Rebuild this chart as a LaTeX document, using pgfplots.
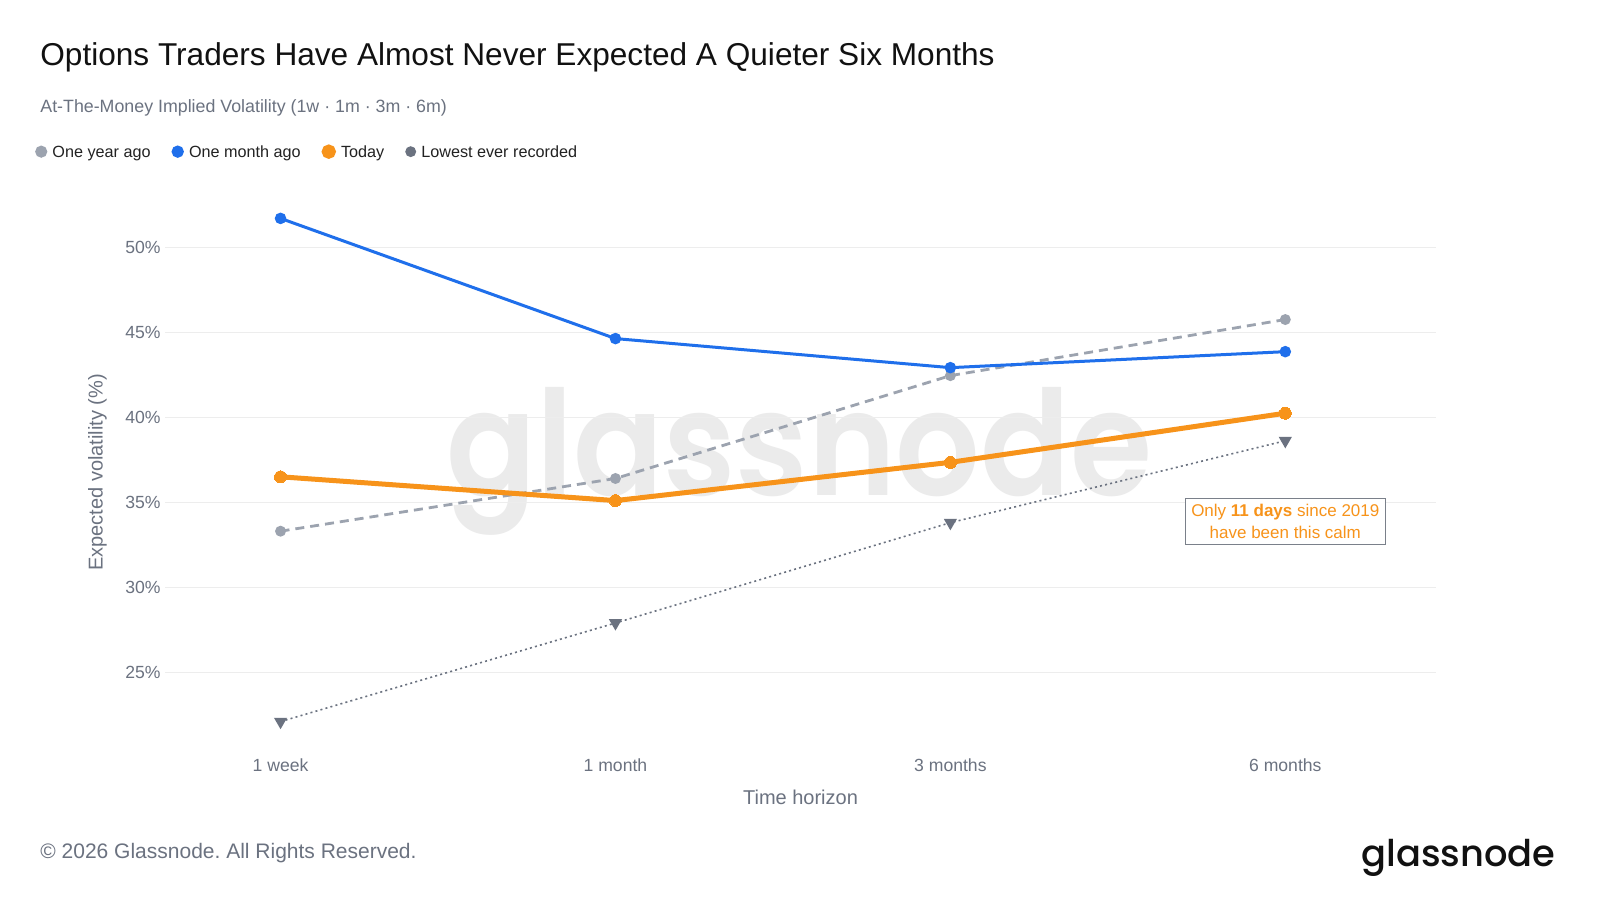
\documentclass[border=0pt]{standalone}
\usepackage{fontspec}
\setmainfont{Liberation Sans}
\newfontfamily\logofont{Poppins}[UprightFont={* Medium}]
\newfontfamily\wmfont{Poppins}[UprightFont={* SemiBold}]
\usepackage{graphicx}
\usepackage{pgfplots}
\pgfplotsset{compat=1.18}
\frenchspacing
\definecolor{cblue}{HTML}{1F6FEB}
\definecolor{corange}{HTML}{F7931A}
\definecolor{cgray}{HTML}{9CA3AF}
\definecolor{cdark}{HTML}{6B7280}
\definecolor{ctext}{HTML}{6B7280}
\definecolor{ctitle}{HTML}{111111}
\definecolor{clegend}{HTML}{222222}
\definecolor{cgrid}{HTML}{EDEDED}
\definecolor{cwm}{HTML}{EBEBEB}
\definecolor{cborder}{HTML}{7A808A}
\pgfplotstableread{
x yearago monthago today lowest
0 33.3 51.7 36.5 22.1
1 36.4 44.63 35.1 27.9
2 42.45 42.92 37.35 33.8
3 45.75 43.86 40.24 38.62
}\voldata
\begin{document}
\begin{tikzpicture}
\useasboundingbox[fill=white] (0,0) rectangle (800pt,450pt);
% watermark
\node[anchor=base, text=cwm, inner sep=0pt] at (399.75pt,202.5pt) {\scalebox{1}[1.1]{\resizebox{353pt}{!}{\wmfont glassnode}}};
% titles
\node[anchor=base west, inner sep=0pt, text=ctitle, font=\fontsize{15.8}{19}\selectfont] at (20pt,417.2pt) {Options Traders Have Almost Never Expected A Quieter Six Months};
\node[anchor=base west, inner sep=0pt, text=ctext, font=\fontsize{8.9}{11}\selectfont] at (20pt,393.9pt) {At-The-Money Implied Volatility (1w · 1m · 3m · 6m)};
\begin{axis}[
  at={(82.5pt,75.6pt)}, anchor=south west,
  width=635.5pt, height=276.25pt, scale only axis,
  xmin=-0.345, xmax=3.45, ymin=20.5, ymax=53,
  axis line style={draw=none},
  major tick length=0pt,
  ymajorgrids, grid style={color=cgrid, line width=0.6pt},
  xtick={0,1,2,3}, xticklabels={1 week,1 month,3 months,6 months},
  ytick={25,30,35,40,45,50},
  yticklabel={\pgfmathprintnumber{\tick}\%},
  /pgf/number format/assume math mode=true,
  ticklabel style={text=ctext, font=\fontsize{8.8}{10}\selectfont},
  xticklabel style={anchor=base, yshift=-11.4pt},
  yticklabel style={anchor=east, inner sep=0pt, xshift=-2pt},
  xlabel={Time horizon},
  xlabel style={at={(axis description cs:0.5,0)}, anchor=center, yshift=-24.1pt, text=ctext, font=\fontsize{10}{12}\selectfont},
  ylabel={Expected volatility (\%)},
  ylabel style={at={(axis description cs:-0.0531,0.5)}, anchor=center, text=ctext, font=\fontsize{10}{12}\selectfont},
  legend columns=-1,
  legend style={at={(axis description cs:-0.1024,1.0791)}, anchor=west, draw=none, fill=none, inner sep=0pt,
    font=\fontsize{8.1}{10}\selectfont, text=clegend, nodes={inner sep=0pt},
    /tikz/every odd column/.style={column sep=2.6pt},
    /tikz/every even column/.style={column sep=10.5pt}},
  clip=false,
]
\addplot[color=cgray, line width=1.4pt, dash pattern=on 4.5pt off 3pt, mark=*, mark size=2pt, mark options={solid, fill=cgray},
  legend image code/.code={\fill[cgray, solid] (2.3pt,0.8pt) circle (2.3pt);}] table[x=x, y=yearago] {\voldata};
\addlegendentry{One year ago}
\addplot[color=cblue, line width=1.5pt, mark=*, mark size=2.1pt, mark options={fill=cblue},
  legend image code/.code={\fill[cblue, solid] (2.3pt,0.8pt) circle (2.3pt);}] table[x=x, y=monthago] {\voldata};
\addlegendentry{One month ago}
\addplot[color=corange, line width=2.5pt, mark=*, mark size=3pt, mark options={fill=corange, line width=0pt},
  legend image code/.code={\fill[corange, solid] (2.3pt,0.8pt) circle (2.3pt);}] table[x=x, y=today] {\voldata};
\addlegendentry{Today}
\addplot[color=cdark, line width=0.8pt, dash pattern=on 1pt off 1.6pt, mark=triangle*, mark size=3pt, mark options={solid, fill=cdark, rotate=180},
  legend image code/.code={\fill[cdark, solid] (2.3pt,0.8pt) circle (2.3pt);}] table[x=x, y=lowest] {\voldata};
\addlegendentry{Lowest ever recorded}
\node[draw=cborder, line width=0.6pt, fill=white, align=center, text=corange, font=\fontsize{8.5}{10.8}\selectfont, inner xsep=3pt, inner ysep=3pt] at (axis cs:3,33.87) {Only \textbf{11 days} since 2019\\have been this calm};
\end{axis}
% footer
\node[anchor=base west, inner sep=0pt, text=ctext, font=\fontsize{10.5}{12}\selectfont] at (20pt,21pt) {© 2026 Glassnode. All Rights Reserved.};
\node[anchor=base east, inner sep=0pt, text=ctitle] at (778pt,17pt) {\resizebox{97pt}{!}{\logofont glassnode}};
\end{tikzpicture}
\end{document}
